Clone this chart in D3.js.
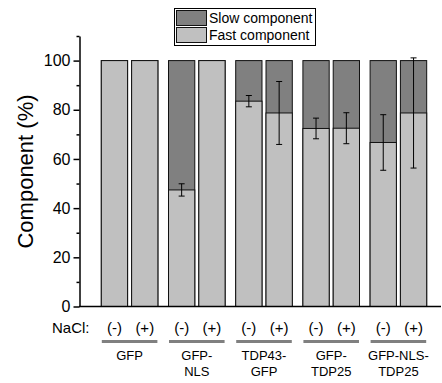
<!DOCTYPE html>
<html>
<head>
<meta charset="utf-8">
<script src="https://cdn.jsdelivr.net/npm/d3@7"></script>
<style>
  body { margin: 0; background: #fff; }
  text { font-family: Arial, "Liberation Sans", sans-serif; fill: #000; }
</style>
</head>
<body>
<script>
let width = 442;
let height = 383;

// data
let groups = ["GFP", "GFP-NLS", "TDP43-GFP", "GFP-TDP25", "GFP-NLS-TDP25"];
let groupLines = [["GFP"], ["GFP-", "NLS"], ["TDP43-", "GFP"], ["GFP-", "TDP25"], ["GFP-NLS-", "TDP25"]];
let conditions = ["(-)", "(+)"];
let fastMinus = [100, 47.4, 83.5, 72.4, 66.7];
let fastPlus = [100, 100, 78.7, 72.5, 78.7];
let errMinus = [0, 2.5, 2.3, 4.2, 11.3];
let errPlus = [0, 0, 12.8, 6.3, 22.4];
let yTicks = [0, 20, 40, 60, 80, 100];
let yMinorTicks = [10, 30, 50, 70, 90, 110];

let rows = [];
groups.forEach((g, i) => {
  rows.push({group: g, cond: "(-)", fast: fastMinus[i], err: errMinus[i]});
  rows.push({group: g, cond: "(+)", fast: fastPlus[i], err: errPlus[i]});
});

let svg = d3.select("body").append("svg")
            .attr("width", width)
            .attr("height", height);

let x0 = d3.scaleBand().domain(groups)
           .range([96, 432])
           .paddingInner(0.143)
           .paddingOuter(0.0715);
let x1 = d3.scaleBand().domain(conditions)
           .range([0, x0.bandwidth()])
           .paddingInner(0.1);
let y = d3.scaleLinear().domain([0, 110]).range([306.5, 36]);

let bx = d => x0(d.group) + x1(d.cond);
let cx = d => bx(d) + x1.bandwidth() / 2;

// slow component (full bar behind)
svg.append("g").selectAll("rect")
   .data(rows).join("rect")
   .attr("x", d => bx(d) + 0.5)
   .attr("y", y(100))
   .attr("width", x1.bandwidth() - 1)
   .attr("height", y(0) - y(100))
   .attr("fill", "#808080")
   .attr("stroke", "#111")
   .attr("stroke-width", 1);

// fast component
svg.append("g").selectAll("rect")
   .data(rows).join("rect")
   .attr("x", d => bx(d) + 0.5)
   .attr("y", d => y(d.fast))
   .attr("width", x1.bandwidth() - 1)
   .attr("height", d => y(0) - y(d.fast))
   .attr("fill", "#c0c0c0")
   .attr("stroke", "#111")
   .attr("stroke-width", 1);

// error bars
let eb = svg.append("g").selectAll("g")
            .data(rows.filter(d => d.err > 0)).join("g")
            .attr("stroke", "#000")
            .attr("stroke-width", 1);
eb.append("line")
  .attr("x1", cx).attr("x2", cx)
  .attr("y1", d => y(d.fast + d.err)).attr("y2", d => y(d.fast - d.err));
eb.append("line")
  .attr("x1", d => cx(d) - 3).attr("x2", d => cx(d) + 3)
  .attr("y1", d => y(d.fast + d.err)).attr("y2", d => y(d.fast + d.err));
eb.append("line")
  .attr("x1", d => cx(d) - 3).attr("x2", d => cx(d) + 3)
  .attr("y1", d => y(d.fast - d.err)).attr("y2", d => y(d.fast - d.err));

// y axis
let yAxis = svg.append("g")
               .attr("transform", "translate(79.5,0)")
               .call(d3.axisLeft(y).tickValues(yTicks).tickSize(6).tickPadding(3).tickSizeOuter(0));
yAxis.select(".domain").attr("stroke-width", 1.5);
yAxis.selectAll(".tick line").attr("stroke-width", 1.5);
yAxis.selectAll("text").attr("font-size", 16).style("font-family", "Arial, 'Liberation Sans', sans-serif");
svg.append("g")
   .attr("transform", "translate(79.5,0)")
   .call(d3.axisLeft(y).tickValues(yMinorTicks).tickSize(3).tickFormat(""))
   .call(g => g.select(".domain").remove())
   .selectAll("line").attr("stroke-width", 1.5);

// x axis
svg.append("line")
   .attr("x1", 79).attr("x2", 441)
   .attr("y1", y(0)).attr("y2", y(0))
   .attr("stroke", "#000").attr("stroke-width", 1.5);

// y label
svg.append("text")
   .attr("transform", "translate(33,171.5) rotate(-90)")
   .attr("text-anchor", "middle")
   .attr("font-size", 22)
   .text("Component (%)");

// NaCl row
svg.append("text")
   .attr("x", 52).attr("y", 332.5)
   .attr("font-size", 15)
   .text("NaCl:");
svg.append("g").selectAll("text")
   .data(rows).join("text")
   .attr("x", cx)
   .attr("y", 332.5)
   .attr("text-anchor", "middle")
   .attr("font-size", 15)
   .text(d => d.cond);

// group underlines
svg.append("g").selectAll("line")
   .data(groups).join("line")
   .attr("x1", d => x0(d) + 1)
   .attr("x2", d => x0(d) + x0.bandwidth() - 1)
   .attr("y1", 341.5).attr("y2", 341.5)
   .attr("stroke", "#808080")
   .attr("stroke-width", 3);

// group labels
let gl = svg.append("g").selectAll("text")
            .data(groups).join("text")
            .attr("text-anchor", "middle")
            .attr("font-size", 13);
gl.selectAll("tspan")
  .data((d, i) => groupLines[i].map(t => ({t: t, g: d})))
  .join("tspan")
  .attr("x", d => x0(d.g) + x0.bandwidth() / 2)
  .attr("y", (d, j) => 359.5 + j * 16)
  .text(d => d.t);

// legend
let legend = svg.append("g");
legend.append("rect")
      .attr("x", 174.5).attr("y", 8.5)
      .attr("width", 141).attr("height", 37)
      .attr("fill", "#fff").attr("stroke", "#000");
let legendItems = [{label: "Slow component", color: "#808080"}, {label: "Fast component", color: "#c0c0c0"}];
legend.selectAll(".sw")
      .data(legendItems).join("rect")
      .attr("x", 176.5)
      .attr("y", (d, i) => 10.5 + i * 17)
      .attr("width", 30).attr("height", 15)
      .attr("fill", d => d.color)
      .attr("stroke", "#111");
legend.selectAll(".lt")
      .data(legendItems).join("text")
      .attr("x", 209)
      .attr("y", (d, i) => 23 + i * 17)
      .attr("font-size", 14)
      .text(d => d.label);
</script>
</body>
</html>
